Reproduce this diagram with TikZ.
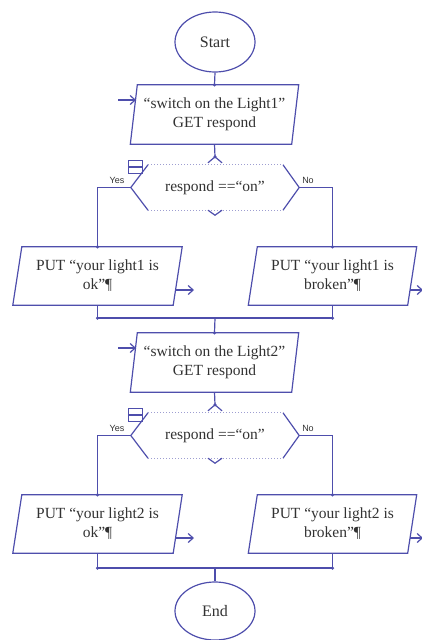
\documentclass[tikz,border=0pt]{standalone}
\usepackage{fontspec}
\setmainfont{Liberation Serif}
\newfontfamily\labfont{Liberation Sans}
\usetikzlibrary{shapes.geometric,calc,arrows.meta}
\definecolor{lineblue}{RGB}{78,78,172}
\definecolor{txt}{RGB}{50,50,50}
\begin{document}
\begin{tikzpicture}[x=1pt,y=-1pt,
 line/.style={draw=lineblue,line width=1.2pt},
 dotline/.style={draw=lineblue!55,line width=1pt,dotted},
 txtbox/.style={rectangle,draw=none,inner sep=0pt,align=center,text=txt,font=\fontsize{15.5}{19}\selectfont},
 term/.style={ellipse,draw=lineblue,line width=1.2pt,minimum width=80pt,minimum height=60pt,inner sep=0pt,text=txt,font=\fontsize{16}{19}\selectfont},
 jdot/.style={circle,fill=lineblue,inner sep=0pt,minimum size=3.5pt},
 lab/.style={font=\labfont\fontsize{9}{10}\selectfont,text=txt,inner sep=0pt},
 arr/.style={line,-{Straight Barb[length=5pt,width=9pt]}}
]
\useasboundingbox (0,0) rectangle (421,640);
\node[term] (start) at (215,42) {Start};
\node[term,minimum height=58pt] (end) at (215,611) {End};

\foreach \i/\o/\jy in {1/0/318,2/248/568}{
 % input/output parallelogram
 \node[txtbox,minimum width=161pt,minimum height=59pt] (p\i) at (214.5,114.5+\o) {“switch on the Light\i”\\GET respond};
 \draw[line] ([xshift=3.5pt]p\i.north west) -- ([xshift=3.5pt]p\i.north east) -- ([xshift=-3.5pt]p\i.south east) -- ([xshift=-3.5pt]p\i.south west) -- cycle;
 \node[jdot] at (p\i.north) {};
 \coordinate (ea\i) at (118,100+\o);
 \coordinate (eb\i) at (136,100+\o);
 \draw[arr] (ea\i) -- (eb\i);
 % decision
 \node[txtbox,minimum width=168pt,minimum height=45pt] (d\i) at (215,187.5+\o) {respond ==“on”};
 \draw[line] ($(d\i.north)+(-67,0)$) -- (d\i.west) -- ($(d\i.south)+(-67,0)$);
 \draw[line] ($(d\i.north)+(68,0)$) -- (d\i.east) -- ($(d\i.south)+(68,0)$);
 \draw[dotline] ($(d\i.north)+(-67,0)$) -- ($(d\i.north)+(68,0)$);
 \draw[dotline] ($(d\i.south)+(-67,0)$) -- ($(d\i.south)+(68,0)$);
 \coordinate (t\i) at ($(d\i.north)+(0,-8)$);
 \draw[line] (p\i.south) -- (t\i);
 \draw[line] ($(t\i)+(-7,6)$) -- (t\i) -- ($(t\i)+(7,6)$);
 \node[jdot] at (t\i) {};
 \draw[line] ($(d\i.south)+(-7,0)$) -- ($(d\i.south)+(0,5)$) -- ($(d\i.south)+(7,0)$);
 \node[draw=lineblue,line width=1.2pt,minimum width=14pt,minimum height=13pt,inner sep=0pt] (ic\i) at (135.5,167+\o) {};
 \draw[line] (ic\i.west) -- (ic\i.east);
 \node[lab] (yes\i) at (117,180+\o) {Yes};
 \node[lab] (no\i) at (308,180+\o) {No};
 % output boxes
 \node[txtbox,minimum width=160pt,minimum height=58pt] (l\i) at (97.5,276+\o) {PUT “your light\i{} is\\ok”¶};
 \draw[line] ([xshift=4.5pt]l\i.north west) -- ([xshift=4.5pt]l\i.north east) -- ([xshift=-4.5pt]l\i.south east) -- ([xshift=-4.5pt]l\i.south west) -- cycle;
 \node[txtbox,minimum width=159pt,minimum height=58pt] (r\i) at (332.5,276+\o) {PUT “your light\i{} is\\broken”¶};
 \draw[line] ([xshift=4.5pt]r\i.north west) -- ([xshift=4.5pt]r\i.north east) -- ([xshift=-4.5pt]r\i.south east) -- ([xshift=-4.5pt]r\i.south west) -- cycle;
 \draw[line] (d\i.west) -| (l\i.north);
 \draw[line] (d\i.east) -| (r\i.north);
 \node[jdot] at (l\i.north) {};
 \node[jdot] at (r\i.north) {};
 \coordinate (lo\i) at (194,290+\o);
 \coordinate (ro\i) at (423,290+\o);
 \draw[arr] ($(l\i.east)+(-2,14)$) -- (lo\i);
 \draw[arr] ($(r\i.east)+(-2,14)$) -- (ro\i);
 % join
 \coordinate (jl\i) at (97.5,\jy);
 \coordinate (jr\i) at (332.5,\jy);
 \coordinate (jc\i) at (215,\jy);
 \draw[line] (l\i.south) -- (jl\i) -- (jr\i) -- (r\i.south);
 \node[jdot] at (jl\i) {};
 \node[jdot] at (jr\i) {};
}
\draw[line] (start.south) -- (p1.north);
\draw[line] (jc1) -- (p2.north);
\draw[line] (jc2) -- (end.north);
\end{tikzpicture}
\end{document}
